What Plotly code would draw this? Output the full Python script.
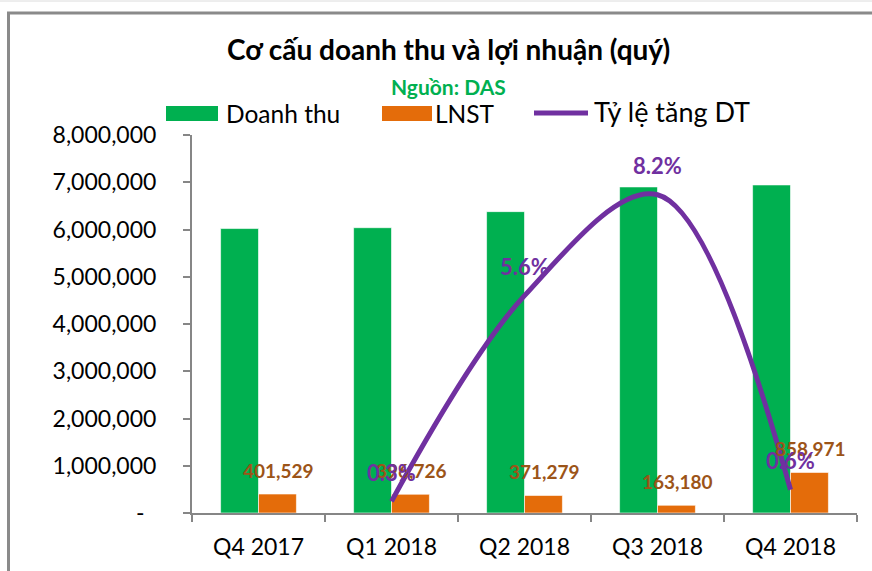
import plotly.graph_objects as go

# ---- data ----
categories = ["Q4 2017", "Q1 2018", "Q2 2018", "Q3 2018", "Q4 2018"]
doanh_thu = [6020000, 6038000, 6378000, 6901000, 6943000]
lnst = [401529, 396726, 371279, 163180, 858971]
growth_categories = ["Q1 2018", "Q2 2018", "Q3 2018", "Q4 2018"]
growth = [0.003, 0.056, 0.082, 0.006]
growth_labels = ["0.3%", "5.6%", "8.2%", "0.6%"]
y_ticks = [0, 1000000, 2000000, 3000000, 4000000, 5000000, 6000000, 7000000, 8000000]
y_tick_text = ["-\u00a0\u00a0"] + [f"{v:,}" for v in y_ticks[1:]]

GREEN = "#00B050"
ORANGE = "#E46C0A"
PURPLE = "#7030A0"
LABEL_BROWN = "#9C5418"
AXIS_GRAY = "#868686"
FONT = "Lato"

W, H = 872, 571
L, R, T, B = 192, 15, 135, 58
PW, PH = W - L - R, H - T - B


def px(x):
    return (x - L) / PW


def py(y):
    return (H - B - y) / PH


fig = go.Figure()
fig.add_trace(go.Bar(x=categories, y=doanh_thu, name="Doanh thu",
                     marker=dict(color=GREEN, line=dict(color="rgba(255,255,255,0.6)", width=1))))
fig.add_trace(go.Bar(x=categories, y=lnst, name="LNST",
                     marker=dict(color=ORANGE, line=dict(color="rgba(255,255,255,0.6)", width=1))))
fig.add_trace(go.Scatter(x=growth_categories, y=growth, name="Tỷ lệ tăng DT", yaxis="y2",
                         mode="lines", line=dict(color=PURPLE, width=5, shape="spline", smoothing=1.0)))

annotations = []
# LNST data labels
for c, v in zip(categories, lnst):
    annotations.append(dict(x=c, y=v, xref="x", yref="y", text=f"{v:,}", showarrow=False,
                            xshift=20, yshift=24, yanchor="middle",
                            font=dict(family=FONT, size=19, color=LABEL_BROWN, weight="bold")))
# growth labels
for c, v, t in zip(growth_categories, growth, growth_labels):
    annotations.append(dict(x=c, y=v, xref="x", yref="y2", text=t, showarrow=False,
                            yshift=29, yanchor="middle",
                            font=dict(family=FONT, size=22, color=PURPLE, weight="bold")))
# title + subtitle
annotations.append(dict(x=px(448), y=py(49), xref="paper", yref="paper",
                        text="<b>Cơ cấu doanh thu và lợi nhuận (quý)</b>", showarrow=False,
                        xanchor="center", yanchor="middle",
                        font=dict(family=FONT, size=28, color="#000000")))
annotations.append(dict(x=px(448), y=py(86), xref="paper", yref="paper",
                        text="<b>Nguồn: DAS</b>", showarrow=False,
                        xanchor="center", yanchor="middle",
                        font=dict(family=FONT, size=21, color=GREEN)))
# manual legend texts
annotations.append(dict(x=px(224), y=py(113), xref="paper", yref="paper", text="Doanh thu",
                        showarrow=False, xanchor="left", yanchor="middle",
                        font=dict(family=FONT, size=24.5, color="#000000")))
annotations.append(dict(x=px(433), y=py(113), xref="paper", yref="paper", text="LNST",
                        showarrow=False, xanchor="left", yanchor="middle",
                        font=dict(family=FONT, size=24.5, color="#000000")))
annotations.append(dict(x=px(592), y=py(111), xref="paper", yref="paper", text="Tỷ lệ tăng DT",
                        showarrow=False, xanchor="left", yanchor="middle",
                        font=dict(family=FONT, size=27, color="#000000")))

shapes = [
    # outer chart frame (left and top edges visible)
    dict(type="rect", xref="paper", yref="paper", x0=px(8.5), x1=px(900), y0=py(600), y1=py(13),
         line=dict(color="#8a8a8a", width=3), fillcolor="rgba(0,0,0,0)", layer="below"),
    dict(type="line", xref="paper", yref="paper", x0=px(0), x1=px(872), y0=py(1), y1=py(1),
         line=dict(color="#dcdcdc", width=1)),
    # legend symbols
    dict(type="rect", xref="paper", yref="paper", x0=px(166), x1=px(218), y0=py(121), y1=py(106),
         fillcolor=GREEN, line=dict(width=0)),
    dict(type="rect", xref="paper", yref="paper", x0=px(382), x1=px(432), y0=py(121), y1=py(106),
         fillcolor=ORANGE, line=dict(width=0)),
    dict(type="line", xref="paper", yref="paper", x0=px(534), x1=px(588), y0=py(113), y1=py(113),
         line=dict(color=PURPLE, width=5)),
]

fig.update_layout(
    width=W, height=H,
    margin=dict(l=L, r=R, t=T, b=B),
    paper_bgcolor="white", plot_bgcolor="white",
    barmode="group", bargap=0.43, bargroupgap=0,
    showlegend=False,
    font=dict(family=FONT, color="#000000"),
    annotations=annotations,
    shapes=shapes,
    xaxis=dict(type="category", categoryorder="array", categoryarray=categories,
               showline=True, linecolor=AXIS_GRAY, linewidth=2,
               ticks="outside", tickson="boundaries", ticklen=7, tickwidth=2, tickcolor=AXIS_GRAY,
               showgrid=False, tickfont=dict(family=FONT, size=23, color="#000000"),
               ticklabelstandoff=12),
    yaxis=dict(range=[0, 8000000], tickvals=y_ticks, ticktext=y_tick_text,
               showline=True, linecolor=AXIS_GRAY, linewidth=2,
               ticks="outside", ticklen=7, tickwidth=2, tickcolor=AXIS_GRAY,
               showgrid=False, zeroline=False,
               tickfont=dict(family=FONT, size=23, color="#000000"),
               ticklabelstandoff=22),
    yaxis2=dict(overlaying="y", side="right", range=[0, 0.0974], visible=False,
                showgrid=False, zeroline=False),
)

fig.write_html("out.html", config={"displayModeBar": False},
               post_script="document.body.style.margin='0';document.body.style.overflow='hidden';")
